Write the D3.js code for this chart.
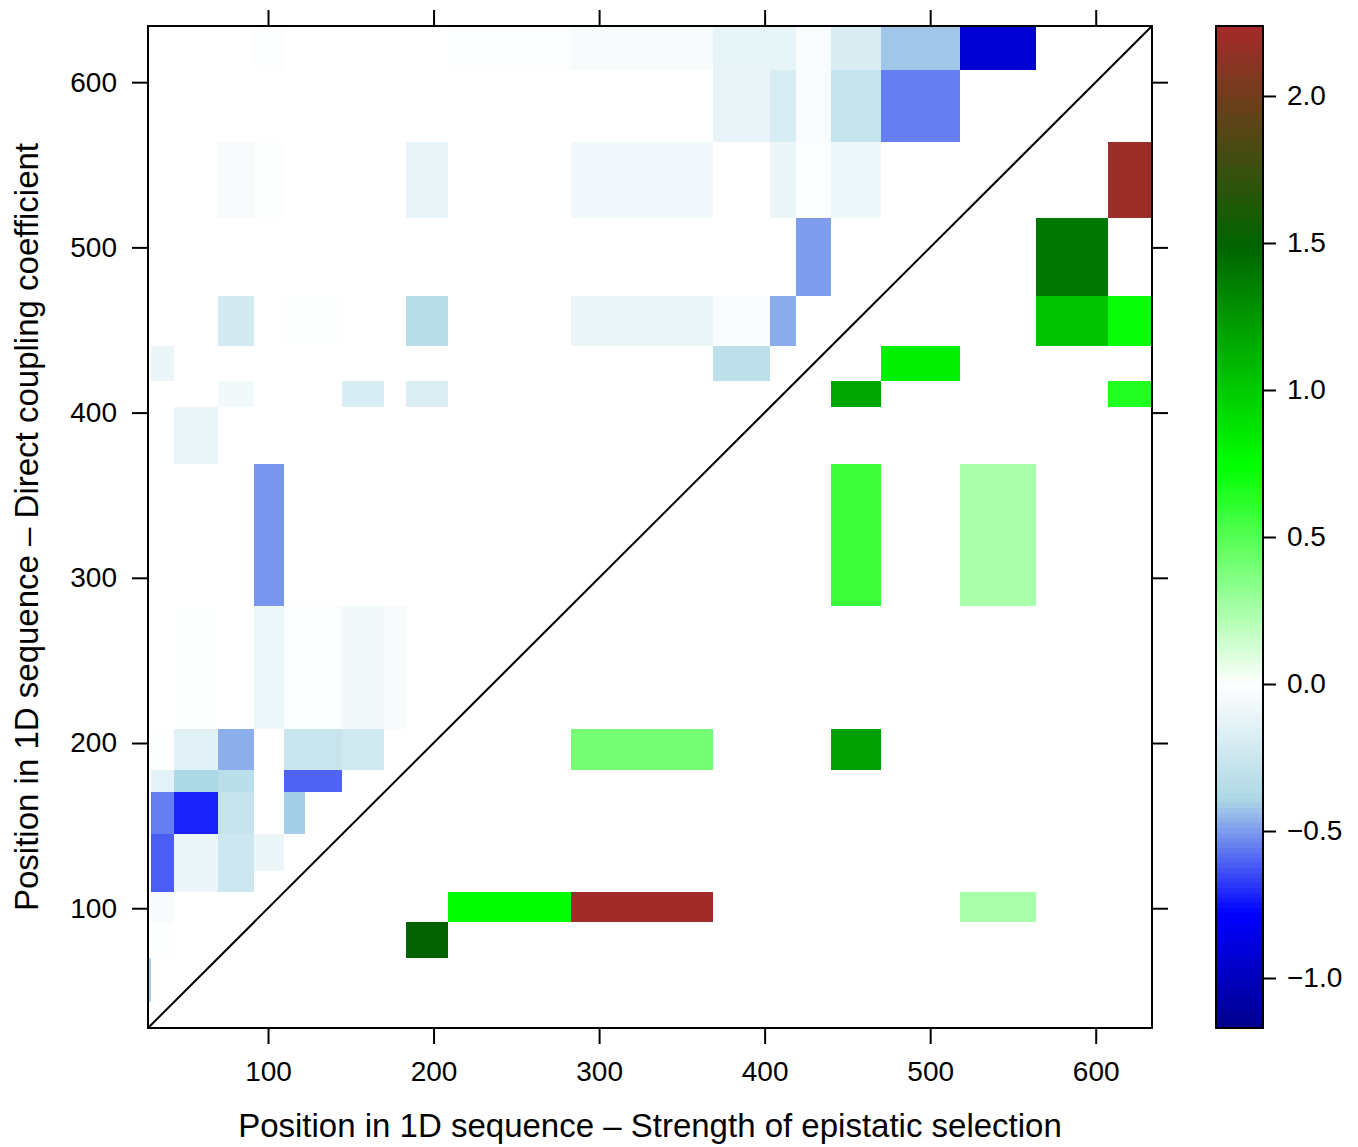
<!DOCTYPE html>
<html>
<head>
<meta charset="utf-8">
<script src="https://cdn.jsdelivr.net/npm/d3@7"></script>
<style>
  body { margin: 0; background: #fff; }
  text { font-family: "Liberation Sans", Arial, sans-serif; fill: #000; }
</style>
</head>
<body>
<div id="outer"></div>
<script>
////////// Data //////////
// cell boundaries along the 1D sequence (same for both axes)
const breaks = [27.5, 29.3, 43.2, 69.8, 91.5, 109.7, 122.3, 144.7, 170.1, 183.4, 208.7,
  283.0, 368.8, 403.2, 418.9, 440.1, 470.3, 518.0, 563.9, 607.4, 634.0];

// upper triangle: direct coupling coefficient  [column, row, value]
const couplingCells = [
  [4, 19, -0.02], [10, 19, -0.02], [11, 19, -0.04], [12, 19, -0.12], [13, 19, -0.12],
  [14, 19, -0.03], [15, 19, -0.18], [16, 19, -0.42], [17, 19, -0.93],
  [12, 18, -0.11], [13, 18, -0.19], [14, 18, -0.03], [15, 18, -0.28], [16, 18, -0.55],
  [3, 17, -0.04], [4, 17, -0.015], [9, 17, -0.11], [11, 17, -0.07], [13, 17, -0.09],
  [14, 17, -0.02], [15, 17, -0.08],
  [14, 16, -0.495],
  [3, 15, -0.21], [5, 15, -0.01], [6, 15, -0.01], [9, 15, -0.34], [11, 15, -0.09],
  [12, 15, -0.035], [13, 15, -0.47],
  [1, 14, -0.09], [12, 14, -0.32],
  [3, 13, -0.065], [7, 13, -0.19], [9, 13, -0.17],
  [2, 12, -0.10],
  [4, 11, -0.51],
  [2, 10, -0.01], [4, 10, -0.085], [5, 10, -0.02], [6, 10, -0.02], [7, 10, -0.06], [8, 10, -0.04],
  [1, 9, -0.015], [2, 9, -0.14], [3, 9, -0.465], [5, 9, -0.26], [6, 9, -0.26], [7, 9, -0.22],
  [1, 8, -0.13], [2, 8, -0.39], [3, 8, -0.33], [5, 8, -0.60], [6, 8, -0.60],
  [1, 7, -0.555], [2, 7, -0.72], [3, 7, -0.28], [5, 7, -0.41],
  [1, 6, -0.61], [2, 6, -0.09], [3, 6, -0.24], [4, 6, -0.09],
  [1, 5, -0.61], [2, 5, -0.09], [3, 5, -0.24],
  [1, 4, -0.04],
  [1, 3, -0.01],
  [0, 2, -0.40]
];

// lower triangle: strength of epistatic selection  [column, row, value]
const selectionCells = [
  [19, 17, 2.20],
  [18, 16, 1.40],
  [18, 15, 1.03], [19, 15, 0.72],
  [16, 14, 0.82],
  [15, 13, 1.17], [19, 13, 0.65],
  [15, 11, 0.57], [17, 11, 0.25],
  [11, 9, 0.40], [15, 9, 1.20],
  [10, 4, 0.75], [11, 4, 2.22], [17, 4, 0.25],
  [9, 3, 1.51]
];

const posTicks = [100, 200, 300, 400, 500, 600];
const keyTicks = [-1.0, -0.5, 0.0, 0.5, 1.0, 1.5, 2.0];
const keyRange = [-1.17, 2.238];
const keyStops = [-1.17, -0.78, -0.39, 0, 0.746, 1.492, 2.238];
const keyColors = ['#00008b', '#0000ff', '#add8e6', '#ffffff', '#00ff00', '#006400', '#a52a2a'];

const xTitle = 'Position in 1D sequence \u2013 Strength of epistatic selection';
const yTitle = 'Position in 1D sequence \u2013 Direct coupling coefficient';

////////// Layout //////////
const W = 1358, H = 1147;
const plot = { left: 148, right: 1152, top: 26, bottom: 1028 };
const key = { left: 1216, right: 1263 };

const svg = d3.select('#outer').append('svg')
  .attr('width', W).attr('height', H)
  .style('display', 'block');

svg.append('rect').attr('width', W).attr('height', H).attr('fill', '#fff');

const x = d3.scaleLinear().domain([breaks[0], breaks[breaks.length - 1]]).range([plot.left, plot.right]);
const y = d3.scaleLinear().domain([breaks[0], breaks[breaks.length - 1]]).range([plot.bottom, plot.top]);
const color = d3.scaleLinear().domain(keyStops).range(keyColors).clamp(true);

// cells
const cellG = svg.append('g').attr('shape-rendering', 'crispEdges');
cellG.selectAll('rect')
  .data(couplingCells.concat(selectionCells))
  .join('rect')
  .attr('x', d => x(breaks[d[0]]))
  .attr('width', d => x(breaks[d[0] + 1]) - x(breaks[d[0]]))
  .attr('y', d => y(breaks[d[1] + 1]))
  .attr('height', d => y(breaks[d[1]]) - y(breaks[d[1] + 1]))
  .attr('fill', d => color(d[2]));

// diagonal
svg.append('line')
  .attr('x1', x.range()[0]).attr('y1', y.range()[0])
  .attr('x2', x.range()[1]).attr('y2', y.range()[1])
  .attr('stroke', '#000').attr('stroke-width', 2);

// frame
svg.append('rect')
  .attr('x', plot.left).attr('y', plot.top)
  .attr('width', plot.right - plot.left).attr('height', plot.bottom - plot.top)
  .attr('fill', 'none').attr('stroke', '#000').attr('stroke-width', 2);

const styleAxis = (g, fontSize) => {
  g.select('.domain').remove();
  g.selectAll('.tick line').attr('stroke', '#000').attr('stroke-width', 2);
  g.selectAll('.tick text').attr('fill', '#000')
    .style('font-size', fontSize + 'px')
    .style('font-family', '"Liberation Sans", Arial, sans-serif');
};

svg.append('g').attr('transform', `translate(0,${plot.bottom})`)
  .call(d3.axisBottom(x).tickValues(posTicks).tickSize(16).tickPadding(17))
  .call(g => styleAxis(g, 28));
svg.append('g').attr('transform', `translate(0,${plot.top})`)
  .call(d3.axisTop(x).tickValues(posTicks).tickSize(16).tickFormat(''))
  .call(g => styleAxis(g, 28));
svg.append('g').attr('transform', `translate(${plot.left},0)`)
  .call(d3.axisLeft(y).tickValues(posTicks).tickSize(16).tickPadding(15))
  .call(g => styleAxis(g, 28));
svg.append('g').attr('transform', `translate(${plot.right},0)`)
  .call(d3.axisRight(y).tickValues(posTicks).tickSize(16).tickFormat(''))
  .call(g => styleAxis(g, 28));

// axis titles
svg.append('text')
  .attr('x', (plot.left + plot.right) / 2).attr('y', 1137)
  .attr('text-anchor', 'middle')
  .style('font-size', '33px')
  .text(xTitle);

svg.append('text')
  .attr('transform', `translate(38,${(plot.top + plot.bottom) / 2}) rotate(-90)`)
  .attr('text-anchor', 'middle')
  .style('font-size', '33px')
  .text(yTitle);

// colour key
const ky = d3.scaleLinear().domain(keyRange).range([plot.bottom, plot.top]);
const nSteps = 200;
const steps = d3.range(nSteps).map(i => keyRange[0] + (keyRange[1] - keyRange[0]) * i / nSteps);
const stepH = (keyRange[1] - keyRange[0]) / nSteps;
svg.append('g').attr('shape-rendering', 'crispEdges')
  .selectAll('rect')
  .data(steps)
  .join('rect')
  .attr('x', key.left).attr('width', key.right - key.left)
  .attr('y', d => ky(d + stepH))
  .attr('height', d => ky(d) - ky(d + stepH) + 0.6)
  .attr('fill', d => color(d + stepH / 2));

svg.append('rect')
  .attr('x', key.left).attr('y', plot.top)
  .attr('width', key.right - key.left).attr('height', plot.bottom - plot.top)
  .attr('fill', 'none').attr('stroke', '#000').attr('stroke-width', 2);

svg.append('g').attr('transform', `translate(${key.right},0)`)
  .call(d3.axisRight(ky).tickValues(keyTicks).tickSize(13).tickPadding(11).tickFormat(d3.format('.1f')))
  .call(g => styleAxis(g, 28));
</script>
</body>
</html>
